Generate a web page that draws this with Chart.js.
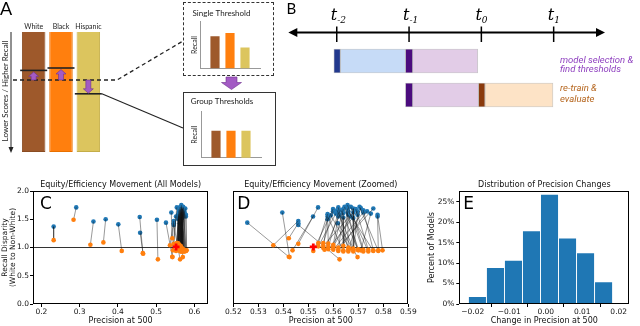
<!DOCTYPE html>
<html>
<head>
<meta charset="utf-8">
<title>Group thresholds: equity / efficiency movement</title>
<script src="https://cdn.jsdelivr.net/npm/chart.js@4.4.1/dist/chart.umd.min.js"></script>
<style>
  html, body { margin: 0; padding: 0; background: #fff; }
  #page { position: relative; width: 640px; height: 326px; overflow: hidden; }
  #page canvas { position: absolute; }
  .box { position: absolute; box-sizing: border-box; border: 1px solid #333; }
  .box.dashed { border-style: dashed; }
</style>
</head>
<body>
<div id="page">
  <canvas id="panelA" width="280" height="172" style="left:0;top:0"></canvas>
  <div class="box dashed" style="left:183px;top:2px;width:91px;height:74px"></div>
  <div class="box" style="left:183px;top:92px;width:93px;height:74px"></div>
  <canvas id="singleChart" width="91" height="74" style="left:183px;top:2px"></canvas>
  <canvas id="groupChart" width="93" height="74" style="left:183px;top:92px"></canvas>
  <canvas id="panelB" width="370" height="120" style="left:270px;top:0"></canvas>
  <canvas id="chartC" width="215" height="154" style="left:0;top:172px"></canvas>
  <canvas id="chartD" width="215" height="154" style="left:215px;top:172px"></canvas>
  <canvas id="chartE" width="220" height="154" style="left:420px;top:172px"></canvas>
</div>
<script>
// ---- panel A: score ordering and thresholds ----
const groupNames = ['White', 'Black', 'Hispanic'];
const groupColors = ['#9e592b', '#ff7f0e', '#dcc55e'];
const groupEdges = ['#8a4c22', '#e87000', '#c4ad48'];
const singleThreshold = 0.40;              // 0 = top of the ranked list
const groupThresholds = [0.32, 0.30, 0.515];
const recallSingle = [0.68, 0.75, 0.44];
const recallGroup = [0.58, 0.58, 0.58];

// ---- panel B: timeline ----
const timeTicks = [-2, -1, 0, 1];
const timeLabels = ['-2', '-1', '0', '1'];
const selectRow = [-2.04, -1.95, -1.05, -0.95, -0.05];
const retrainRow = [-1.05, -0.95, -0.04, 0.05, 0.99];
const selectColors = ['#22398e', '#c6dbf7', '#4b0c7e', '#e2cce7'];
const retrainColors = ['#4b0c7e', '#e2cce7', '#8a3a0c', '#fde3c6'];

// ---- panels C / D: one pair per model (blue = single threshold, orange = group thresholds) ----
const blueX = [0.232, 0.291, 0.336, 0.368, 0.401, 0.457, 0.458, 0.502,
  0.5256, 0.5396, 0.546, 0.546, 0.546, 0.5519, 0.5539,
  0.5577, 0.5577, 0.5577, 0.5599, 0.5599, 0.562, 0.562, 0.562, 0.5618,
  0.564, 0.564, 0.564, 0.5657, 0.5657, 0.5657, 0.568, 0.568, 0.568,
  0.5697, 0.5697, 0.572, 0.572, 0.576, 0.5777, 0.5777,
  0.566, 0.558, 0.563, 0.567, 0.571, 0.561, 0.569, 0.5735, 0.566, 0.5615, 0.5645, 0.5705, 0.5625, 0.567, 0.559, 0.575];
const blueY = [1.37, 1.71, 1.46, 1.50, 1.41, 1.54, 1.26, 1.49,
  1.44, 1.62, 1.47, 1.43, 1.40, 1.55, 1.71,
  1.59, 1.55, 1.50, 1.68, 1.64, 1.71, 1.62, 1.55, 1.43,
  1.68, 1.61, 1.53, 1.75, 1.69, 1.62, 1.69, 1.62, 1.52,
  1.64, 1.58, 1.66, 1.62, 1.69, 1.58, 1.55,
  1.58, 1.53, 1.66, 1.72, 1.70, 1.60, 1.68, 1.64, 1.64, 1.66, 1.72, 1.72, 1.58, 1.55, 1.57, 1.60];
const orangeX = [0.232, 0.284, 0.328, 0.362, 0.410, 0.465, 0.466, 0.5045,
  0.5422, 0.5425, 0.536, 0.5422, 0.5625, 0.5437, 0.546,
  0.554, 0.556, 0.558, 0.552, 0.556, 0.566, 0.558, 0.560, 0.5697,
  0.560, 0.562, 0.564, 0.572, 0.564, 0.566, 0.568, 0.556, 0.574,
  0.558, 0.568, 0.576, 0.560, 0.562, 0.5797, 0.578,
  0.5697, 0.564, 0.570, 0.572, 0.566, 0.554, 0.574, 0.562, 0.576, 0.568, 0.570, 0.578, 0.5565, 0.560, 0.5665, 0.571];
const orangeY = [1.13, 1.49, 1.05, 1.09, 0.94, 0.90, 0.89, 0.79,
  0.835, 0.83, 1.04, 1.165, 0.79, 0.95, 1.065,
  1.08, 0.99, 1.07, 0.94, 1.08, 0.96, 1.01, 1.05, 0.83,
  0.99, 0.96, 1.03, 0.93, 0.95, 1.00, 0.96, 1.03, 0.93,
  0.97, 0.93, 0.95, 0.96, 1.00, 0.95, 0.95,
  0.96, 0.93, 0.95, 0.96, 0.93, 1.02, 0.96, 0.94, 0.94, 0.98, 0.97, 0.94, 0.96, 1.02, 0.98, 0.95];
const singleModelX = [0.552];
const singleModelY = [1.01];
const cTicksX = [0.2, 0.3, 0.4, 0.5, 0.6];
const cTicksY = [0, 0.5, 1.0, 1.5, 2.0];
const dTicksX = [0.52, 0.53, 0.54, 0.55, 0.56, 0.57, 0.58, 0.59];

// ---- panel E: histogram of precision changes ----
const binEdges = [-0.0212, -0.01626, -0.01132, -0.00638, -0.00144, 0.0035, 0.00844, 0.01338, 0.01832];
const pctModels = [1.8, 8.9, 10.7, 17.9, 26.8, 16.1, 12.5, 5.4];
const eTicksX = [-0.02, -0.01, 0, 0.01, 0.02];
const eTicksY = [0, 5, 10, 15, 20, 25];

Chart.defaults.font.family = "'DejaVu Sans', sans-serif";
Chart.defaults.font.size = 7.5;
Chart.defaults.color = '#111';
Chart.defaults.animation = false;
Chart.defaults.responsive = false;
Chart.defaults.devicePixelRatio = 1;
Chart.defaults.events = [];
Chart.defaults.plugins.legend.display = false;
Chart.defaults.plugins.tooltip.enabled = false;

function blockArrow(ctx, x, yFrom, yTo, shaftW, headW, headL) {
  const dir = yTo > yFrom ? 1 : -1;
  const yNeck = yTo - dir * headL;
  ctx.beginPath();
  ctx.moveTo(x - shaftW / 2, yFrom);
  ctx.lineTo(x - shaftW / 2, yNeck);
  ctx.lineTo(x - headW / 2, yNeck);
  ctx.lineTo(x, yTo);
  ctx.lineTo(x + headW / 2, yNeck);
  ctx.lineTo(x + shaftW / 2, yNeck);
  ctx.lineTo(x + shaftW / 2, yFrom);
  ctx.closePath();
  ctx.fill();
  ctx.stroke();
}

// A: thresholds, arrows and labels drawn over the three score bars
const panelADecor = {
  id: 'panelADecor',
  afterDatasetsDraw(chart) {
    const ctx = chart.ctx;
    const y = chart.scales.y;
    const bars = chart.getDatasetMeta(0).data;
    const ySingle = y.getPixelForValue(singleThreshold);
    ctx.save();

    ctx.strokeStyle = '#222';
    ctx.lineWidth = 1.6;
    bars.forEach((bar, i) => {
      const yy = y.getPixelForValue(groupThresholds[i]);
      ctx.beginPath(); ctx.moveTo(bar.x - 13.5, yy); ctx.lineTo(bar.x + 13.5, yy); ctx.stroke();
    });
    const last = bars[bars.length - 1];
    ctx.lineWidth = 1.1;
    ctx.beginPath();
    ctx.moveTo(last.x + 13.5, y.getPixelForValue(groupThresholds[2]));
    ctx.lineTo(183, 128);
    ctx.stroke();

    ctx.setLineDash([4, 3]);
    ctx.lineWidth = 1.3;
    ctx.beginPath(); ctx.moveTo(13, ySingle); ctx.lineTo(117, ySingle); ctx.lineTo(183, 41); ctx.stroke();
    ctx.setLineDash([]);

    ctx.fillStyle = '#a35bc4';
    ctx.strokeStyle = '#6f2f8f';
    ctx.lineWidth = 0.6;
    bars.forEach((bar, i) => {
      const yy = y.getPixelForValue(groupThresholds[i]);
      blockArrow(ctx, bar.x, ySingle, yy + (yy < ySingle ? 1.5 : -0.5), 5, 10, 4.5);
    });
    blockArrow(ctx, 231.5, 77, 89.5, 11, 20, 7);

    ctx.fillStyle = '#222';
    ctx.font = '7px Lato';
    ctx.textAlign = 'center';
    ctx.textBaseline = 'middle';
    bars.forEach((bar, i) => ctx.fillText(groupNames[i], bar.x, 27));

    ctx.strokeStyle = '#222';
    ctx.lineWidth = 1;
    ctx.beginPath(); ctx.moveTo(11, 32); ctx.lineTo(11, 148); ctx.stroke();
    ctx.beginPath(); ctx.moveTo(8.5, 147); ctx.lineTo(13.5, 147); ctx.lineTo(11, 153); ctx.closePath(); ctx.fill();
    ctx.save();
    ctx.translate(5, 91);
    ctx.rotate(-Math.PI / 2);
    ctx.font = '8px Lato';
    ctx.fillText('Lower Scores / Higher Recall', 0, 0);
    ctx.restore();

    ctx.font = '18px Lato';
    ctx.textAlign = 'left';
    ctx.textBaseline = 'top';
    ctx.fillStyle = '#000';
    ctx.fillText('A', 0, 0);
    ctx.restore();
  }
};

new Chart(document.getElementById('panelA'), {
  type: 'bar',
  data: {
    labels: groupNames,
    datasets: [{
      data: groupNames.map(() => 1),
      backgroundColor: groupColors,
      borderColor: groupEdges,
      borderWidth: 1,
      barPercentage: 0.86,
      categoryPercentage: 1
    }]
  },
  options: {
    layout: { padding: { left: 20, right: 178, top: 32, bottom: 20 } },
    scales: {
      x: { display: false },
      y: { display: false, min: 0, max: 1, reverse: true }
    }
  },
  plugins: [panelADecor]
});

function recallChart(id, title, values, titlePad, padRight, padBottom, axisWidth) {
  new Chart(document.getElementById(id), {
    type: 'bar',
    data: {
      datasets: [{
        data: values.map((v, i) => ({ x: i + 1, y: v })),
        backgroundColor: groupColors,
        barThickness: 8.5
      }]
    },
    options: {
      layout: { padding: { left: 0, right: padRight, top: 0, bottom: padBottom } },
      plugins: {
        title: { display: true, text: title, color: '#222', font: { family: 'Lato', size: 8, weight: 'normal' }, padding: titlePad }
      },
      scales: {
        x: {
          type: 'linear', min: 0, max: 4, offset: false,
          ticks: { display: false }, grid: { display: false },
          border: { color: '#999', width: 1 },
          afterFit: s => { s.height = 0; }
        },
        y: {
          min: 0, max: 1,
          ticks: { display: false }, grid: { display: false },
          border: { color: '#999', width: 1 },
          title: { display: true, text: 'Recall', color: '#222', font: { family: 'Lato', size: 7 }, padding: { top: 7.8, bottom: 0 } },
          afterFit: s => { s.width = axisWidth; }
        }
      }
    }
  });
}
recallChart('singleChart', 'Single Threshold', recallSingle, { top: 6.5, bottom: 3.6 }, 14, 7.7, 17);
recallChart('groupChart', 'Group Thresholds', recallGroup, { top: 4.9, bottom: 5.2 }, 15, 8.3, 18);

// B: timeline axis with arrows, tick labels and row notes
const timelineDecor = {
  id: 'timelineDecor',
  afterDatasetsDraw(chart) {
    const { ctx, chartArea: a, scales: { x } } = chart;
    const yAxis = 32.5;
    ctx.save();
    ctx.strokeStyle = '#000';
    ctx.fillStyle = '#000';
    ctx.lineWidth = 2;
    ctx.beginPath(); ctx.moveTo(a.left + 6, yAxis); ctx.lineTo(a.right - 6, yAxis); ctx.stroke();
    ctx.beginPath(); ctx.moveTo(a.left, yAxis); ctx.lineTo(a.left + 9, yAxis - 4.5); ctx.lineTo(a.left + 9, yAxis + 4.5); ctx.closePath(); ctx.fill();
    ctx.beginPath(); ctx.moveTo(a.right, yAxis); ctx.lineTo(a.right - 9, yAxis - 4.5); ctx.lineTo(a.right - 9, yAxis + 4.5); ctx.closePath(); ctx.fill();
    ctx.lineWidth = 1.5;
    timeTicks.forEach((t, i) => {
      const px = x.getPixelForValue(t);
      ctx.beginPath(); ctx.moveTo(px, 26.5); ctx.lineTo(px, 42); ctx.stroke();
      ctx.textBaseline = 'alphabetic';
      ctx.font = 'italic 16px "DejaVu Serif"';
      ctx.textAlign = 'right';
      ctx.fillText('t', px + 0.5, 20);
      ctx.font = 'italic 9px "DejaVu Serif"';
      ctx.textAlign = 'left';
      ctx.fillText(timeLabels[i], px + 0.5, 22.5);
    });
    ctx.font = 'italic 9.5px Roboto';
    ctx.textAlign = 'left';
    ctx.textBaseline = 'middle';
    ctx.fillStyle = '#8e3fbf';
    ctx.fillText('model selection &', 290, 60.7);
    ctx.fillText('find thresholds', 290, 69.5);
    ctx.fillStyle = '#b5651d';
    ctx.fillText('re-train &', 290, 88.5);
    ctx.fillText('evaluate', 290, 99.3);
    ctx.fillStyle = '#000';
    ctx.font = '15px Lato';
    ctx.textBaseline = 'top';
    ctx.fillText('B', 16.5, 2);
    ctx.restore();
  }
};

const timelineSets = [];
selectColors.forEach((c, i) => timelineSets.push({
  data: [[selectRow[i], selectRow[i + 1]], null], backgroundColor: c
}));
retrainColors.forEach((c, i) => timelineSets.push({
  data: [null, [retrainRow[i], retrainRow[i + 1]]], backgroundColor: c
}));
timelineSets.forEach(ds => {
  ds.grouped = false;
  ds.barThickness = 24;
  ds.borderColor = 'rgba(160,160,160,0.6)';
  ds.borderWidth = 0.8;
  ds.borderSkipped = false;
});

new Chart(document.getElementById('panelB'), {
  type: 'bar',
  data: { labels: ['select', 'retrain'], datasets: timelineSets },
  options: {
    indexAxis: 'y',
    layout: { padding: { left: 18.3, right: 35, top: 44, bottom: 8 } },
    scales: {
      x: { type: 'linear', display: false, min: -2.67, max: 1.71 },
      y: { display: false }
    }
  },
  plugins: [timelineDecor]
});

// C, D, E: frame, title and panel letter
const axesDecor = {
  id: 'axesDecor',
  afterDraw(chart, args, opts) {
    const { ctx, chartArea: a } = chart;
    ctx.save();
    ctx.strokeStyle = '#000';
    ctx.lineWidth = 1;
    ctx.strokeRect(Math.round(a.left) + 0.5, Math.round(a.top) + 0.5, Math.round(a.width) - 1, Math.round(a.height) - 1);
    ctx.fillStyle = '#111';
    ctx.font = "8px 'DejaVu Sans'";
    ctx.textAlign = 'center';
    ctx.textBaseline = 'middle';
    ctx.fillText(opts.title, (a.left + a.right) / 2, a.top - 6);
    ctx.font = "17px 'DejaVu Sans'";
    ctx.textAlign = 'left';
    ctx.textBaseline = 'top';
    ctx.fillStyle = '#000';
    ctx.fillText(opts.letter, a.left + opts.letterDx, a.top + 5);
    ctx.restore();
  }
};

function tickAxis(min, max, ticks, fmt, titleText, extra) {
  return Object.assign({
    type: 'linear', min: min, max: max, offset: false,
    afterBuildTicks: s => { s.ticks = ticks.map(v => ({ value: v })); },
    ticks: { callback: fmt, autoSkip: false, maxRotation: 0, padding: 2 },
    grid: { display: true, drawOnChartArea: false, tickLength: 3, color: '#000' },
    border: { display: false },
    title: { display: true, text: titleText, font: { size: 8 }, padding: { top: 0, bottom: 0 } }
  }, extra);
}

function movementChart(id, xMin, xMax, xTicks, xDigits, showY, padLeft, padRight, letterDx, title, letter) {
  const datasets = [];
  datasets.push({ type: 'line', data: [{ x: xMin, y: 1 }, { x: xMax, y: 1 }], borderColor: '#333', borderWidth: 1, pointRadius: 0, order: 6 });
  blueX.forEach((bx, i) => datasets.push({
    type: 'line',
    data: [{ x: bx, y: blueY[i] }, { x: orangeX[i], y: orangeY[i] }],
    borderColor: 'rgba(20,20,20,0.55)', borderWidth: 0.8, pointRadius: 0, order: 4
  }));
  datasets.push({ data: blueX.map((x, i) => ({ x: x, y: blueY[i] })), backgroundColor: '#1f77b4', pointRadius: 2.3, borderWidth: 0, order: 5 });
  datasets.push({ data: orangeX.map((x, i) => ({ x: x, y: orangeY[i] })), backgroundColor: '#ff7f0e', pointRadius: 2.3, borderWidth: 0, order: 3 });
  datasets.push({ data: singleModelX.map((x, i) => ({ x: x, y: singleModelY[i] })), pointStyle: 'cross', pointRadius: 3.5, borderColor: '#ff0000', borderWidth: 2.8, order: 1 });

  const xAxis = tickAxis(xMin, xMax, xTicks, v => v.toFixed(xDigits), 'Precision at 500', { afterFit: s => { s.height = 22; } });
  xAxis.ticks.padding = 1;
  const yAxis = showY
    ? tickAxis(0, 2, cTicksY, v => v.toFixed(1), ['Recall Disparity', '(White to Non-White)'], { afterFit: s => { s.width = 33; } })
    : { display: false, min: 0, max: 2 };
  if (showY) {
    yAxis.ticks.padding = 1;
    yAxis.title.font = { size: 7.5, lineHeight: 1.15 };
    yAxis.title.padding = { top: 0.3, bottom: 0 };
  }

  new Chart(document.getElementById(id), {
    type: 'scatter',
    data: { datasets: datasets },
    options: {
      layout: { padding: { left: padLeft, right: padRight, top: 19, bottom: 0 } },
      scales: { x: xAxis, y: yAxis },
      plugins: { axesDecor: { title: title, letter: letter, letterDx: letterDx } }
    },
    plugins: [axesDecor]
  });
}

movementChart('chartC', 0.178, 0.636, cTicksX, 1, true, 0, 3, 7, 'Equity/Efficiency Movement (All Models)', 'C');
movementChart('chartD', 0.52, 0.59, dTicksX, 2, false, 18.3, 21.7, 4, 'Equity/Efficiency Movement (Zoomed)', 'D');

const eX = tickAxis(-0.0237, 0.0229, eTicksX, v => (v < 0 ? '\u2212' : '') + Math.abs(v).toFixed(2), 'Change in Precision at 500', { afterFit: s => { s.height = 22; } });
eX.ticks.padding = 1;
const eY = tickAxis(0, 27.6, eTicksY, v => v + '%', 'Percent of Models', { afterFit: s => { s.width = 39.3; } });
eY.title.padding = { top: 7.2, bottom: 0 };

new Chart(document.getElementById('chartE'), {
  type: 'bar',
  data: {
    datasets: [{
      data: pctModels.map((p, i) => ({ x: (binEdges[i] + binEdges[i + 1]) / 2, y: p })),
      backgroundColor: '#1f77b4',
      borderColor: 'rgba(255,255,255,0.55)',
      borderWidth: 0.8,
      borderSkipped: 'bottom',
      barPercentage: 1,
      categoryPercentage: 1
    }]
  },
  options: {
    layout: { padding: { left: 0, right: 10.7, top: 19, bottom: 0 } },
    scales: { x: eX, y: eY },
    plugins: { axesDecor: { title: 'Distribution of Precision Changes', letter: 'E', letterDx: 4 } }
  },
  plugins: [axesDecor]
});
</script>
</body>
</html>
